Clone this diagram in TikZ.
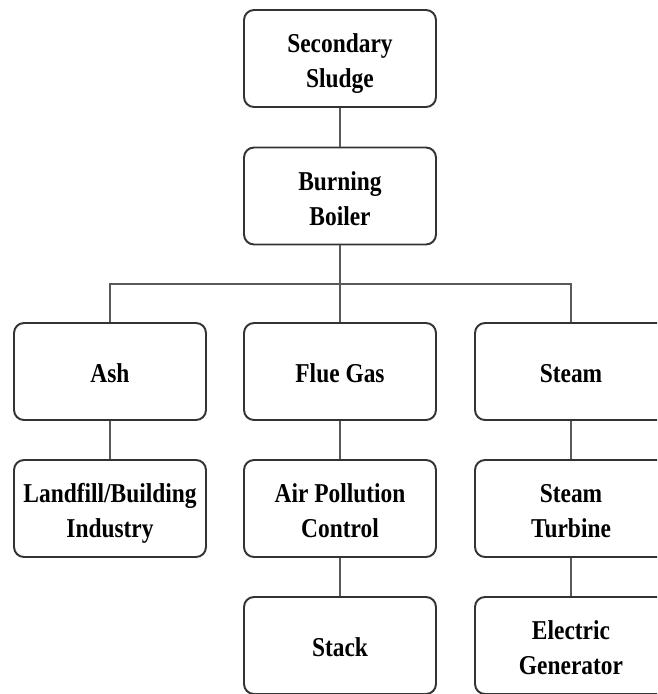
\documentclass[tikz,border=0pt]{standalone}
\usepackage{fontspec}
\setmainfont{Liberation Serif}[FakeStretch=0.86]
\tikzset{stage/.style={draw=black!80,line width=1.1pt,rounded corners=0.2cm,minimum width=3.84cm,minimum height=1.94cm,align=center,font=\fontsize{15.5}{20}\selectfont\bfseries,text height=13pt,text depth=0pt}}
\tikzset{twoline/.style={stage,text height=33.5pt}}
\tikzset{link/.style={draw=black!65,line width=0.8pt}}

\begin{document}
\begin{tikzpicture}[x=0.02cm,y=-0.02cm]
        % fix the page size
        \useasboundingbox (0,0) rectangle (657,694);
        \clip (0,0) rectangle (657,694);
        % draw the stages
        \node[twoline] (sludge) at (340,58.5) {Secondary\\Sludge};
        \node[twoline] (boiler) at (340,196) {Burning\\Boiler};
        \node[stage] (ash) at (110,371.5) {Ash};
        \node[stage] (flue) at (340,371.5) {Flue Gas};
        \node[stage] (steam) at (571,371.5) {Steam};
        \node[twoline] (landfill) at (110,508.5) {Landfill/Building\\Industry};
        \node[twoline] (apc) at (340,508.5) {Air Pollution\\Control};
        \node[twoline] (turbine) at (571,508.5) {Steam\\Turbine};
        \node[stage] (stack) at (340,645.5) {Stack};
        \node[twoline] (generator) at (571,645.5) {Electric\\Generator};
        % draw the links
        \coordinate (bar) at (340,284);
        \draw[link] (sludge) -- (boiler);
        \draw[link] (boiler) -- (flue);
        \draw[link] (ash.north) |- (bar) -| (steam.north);
        \draw[link] (ash) -- (landfill);
        \draw[link] (flue) -- (apc);
        \draw[link] (apc) -- (stack);
        \draw[link] (steam) -- (turbine);
        \draw[link] (turbine) -- (generator);
    \end{tikzpicture}
\end{document}
